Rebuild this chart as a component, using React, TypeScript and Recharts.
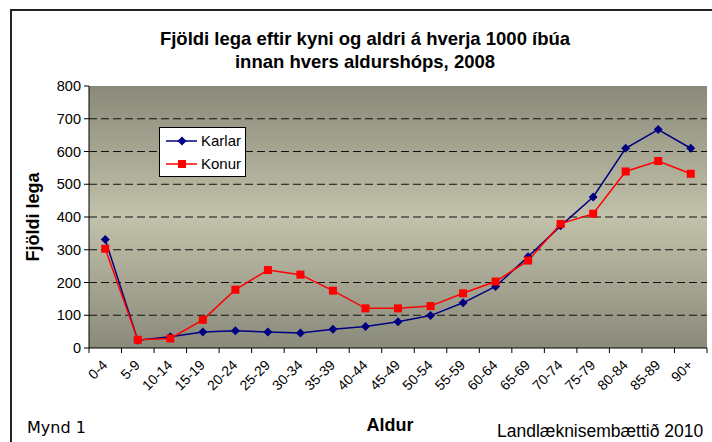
import { CartesianGrid, Legend, Line, LineChart, XAxis, YAxis } from 'recharts';

// Hospital stays per 1000 inhabitants by sex and age group, 2008
const ageGroups = [
  '0-4', '5-9', '10-14', '15-19', '20-24', '25-29', '30-34', '35-39', '40-44', '45-49',
  '50-54', '55-59', '60-64', '65-69', '70-74', '75-79', '80-84', '85-89', '90+',
];
const karlar = [331, 24, 34, 49, 53, 49, 46, 57, 66, 80, 99, 138, 188, 279, 373, 461, 610, 667, 610];
const konur = [303, 25, 29, 86, 178, 238, 224, 175, 121, 121, 128, 167, 203, 267, 379, 410, 539, 571, 532];
const yTicks = [0, 100, 200, 300, 400, 500, 600, 700, 800];
const gridValues = [100, 200, 300, 400, 500, 600, 700];

const data = ageGroups.map((age, i) => ({ age, karlar: karlar[i], konur: konur[i] }));

const NAVY = '#000080';
const RED = '#ff0000';
const FONT = '"Liberation Sans", Arial, sans-serif';

function Diamond({ cx, cy }: any) {
  if (cx == null || cy == null) return null;
  const r = 4.5;
  return <path d={`M${cx} ${cy - r}L${cx + r} ${cy}L${cx} ${cy + r}L${cx - r} ${cy}Z`} fill={NAVY} />;
}

function Square({ cx, cy }: any) {
  if (cx == null || cy == null) return null;
  return <rect x={cx - 4} y={cy - 4} width={8} height={8} fill={RED} />;
}

// Category labels sit at band centres, tick marks at band edges (Excel style)
function AgeTick({ x, y, payload, index }: any) {
  const off = payload.offset ?? 16.25;
  const last = index === ageGroups.length - 1;
  const lx = x + 3;
  const ly = y + 18;
  return (
    <g>
      <line x1={x - off} x2={x - off} y1={y} y2={y + 5} stroke="#000" />
      {last && <line x1={x + off} x2={x + off} y1={y} y2={y + 5} stroke="#000" />}
      <text
        x={lx}
        y={ly}
        textAnchor="end"
        transform={`rotate(-45, ${lx}, ${ly})`}
        fontSize={14}
        fontFamily={FONT}
        fill="#000"
      >
        {payload.value}
      </text>
    </g>
  );
}

function LegendBox({ payload }: any) {
  const items = payload ?? [];
  return (
    <div style={{ width: 85, height: 48, border: '1px solid #000', background: '#fff' }}>
      <svg width={85} height={48}>
        {items.map((p: any, i: number) => {
          const cy = 13 + i * 23;
          return (
            <g key={p.value}>
              <line x1={6} x2={37} y1={cy} y2={cy} stroke={p.color} strokeWidth={1.5} />
              {i === 0 ? <Diamond cx={22} cy={cy} /> : <Square cx={22} cy={cy} />}
              <text x={41} y={cy + 5} fontSize={15} fontFamily={FONT} fill="#000">
                {p.value}
              </text>
            </g>
          );
        })}
      </svg>
    </div>
  );
}

export default function App() {
  return (
    <div
      style={{
        position: 'absolute',
        left: 0,
        top: 0,
        width: 712,
        height: 442,
        background: '#fff',
        overflow: 'hidden',
      }}
    >
      <div
        style={{
          position: 'absolute',
          left: 10,
          top: 9,
          width: 760,
          height: 500,
          border: '2px solid #222',
        }}
      />
      <LineChart width={712} height={442} data={data} margin={{ top: 86, right: 5, bottom: 34, left: 29 }}>
        <defs>
          <linearGradient id="plotBg" x1="0" y1="0" x2="0" y2="1">
            <stop offset="0%" stopColor="#8a8a7a" />
            <stop offset="50%" stopColor="#c2c1aa" />
            <stop offset="100%" stopColor="#8a8a7b" />
          </linearGradient>
        </defs>
        <CartesianGrid
          vertical={false}
          horizontalValues={gridValues}
          fill="url(#plotBg)"
          fillOpacity={1}
          stroke="#111"
          strokeDasharray="8 4"
        />
        <XAxis
          dataKey="age"
          scale="band"
          interval={0}
          height={60}
          tickSize={0}
          tickMargin={0}
          tickLine={false}
          axisLine={{ stroke: '#000' }}
          tick={AgeTick}
        />
        <YAxis
          width={60}
          domain={[0, 800]}
          ticks={yTicks}
          interval={0}
          tickSize={5}
          tickMargin={3}
          tickLine={{ stroke: '#000' }}
          axisLine={{ stroke: '#000' }}
          tick={{ fill: '#000', fontSize: 14.5, fontFamily: FONT }}
        />
        <Legend
          layout="vertical"
          align="center"
          verticalAlign="middle"
          wrapperStyle={{ position: 'absolute', left: 159, top: 127, width: 87, height: 50 }}
          content={LegendBox}
        />
        <Line
          dataKey="karlar"
          name="Karlar"
          stroke={NAVY}
          strokeWidth={1.5}
          dot={Diamond}
          activeDot={false}
          isAnimationActive={false}
        />
        <Line
          dataKey="konur"
          name="Konur"
          stroke={RED}
          strokeWidth={1.5}
          dot={Square}
          activeDot={false}
          isAnimationActive={false}
        />
      </LineChart>
      <svg
        width={712}
        height={442}
        style={{ position: 'absolute', left: 0, top: 0, pointerEvents: 'none' }}
        fontFamily={FONT}
      >
        <text x={365} y={45} textAnchor="middle" fontSize={18.5} fontWeight="bold">
          Fjöldi lega eftir kyni og aldri á hverja 1000 íbúa
        </text>
        <text x={365} y={68} textAnchor="middle" fontSize={18.5} fontWeight="bold">
          innan hvers aldurshóps, 2008
        </text>
        <text
          x={0}
          y={0}
          transform="translate(39, 217) rotate(-90)"
          textAnchor="middle"
          fontSize={18}
          fontWeight="bold"
        >
          Fjöldi lega
        </text>
        <text x={390} y={431} textAnchor="middle" fontSize={18} fontWeight="bold">
          Aldur
        </text>
        <text x={27} y={433} fontSize={16} fontFamily='"DejaVu Sans", Verdana, sans-serif'>
          Mynd 1
        </text>
        <text x={497} y={437} fontSize={17.5}>
          Landlæknisembættið 2010
        </text>
      </svg>
    </div>
  );
}
